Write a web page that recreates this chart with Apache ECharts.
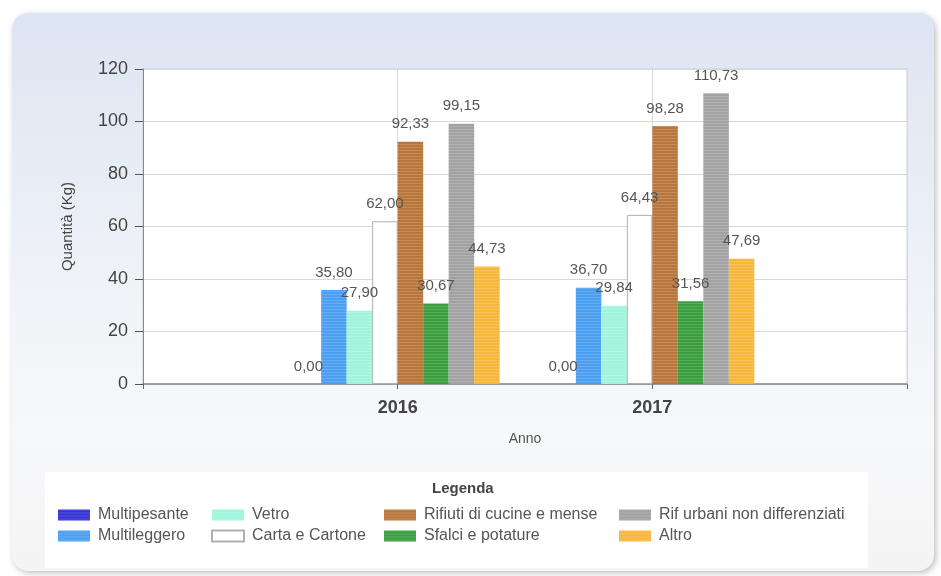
<!DOCTYPE html>
<html>
<head>
<meta charset="utf-8">
<script src="https://cdn.jsdelivr.net/npm/echarts@6/dist/echarts.min.js"></script>
<style>
html,body{margin:0;padding:0;background:#fff;}
#chart{width:941px;height:576px;}
</style>
</head>
<body>
<div id="chart"></div>
<script>
const years = [2016, 2017];
const seriesNames = ['Multipesante','Multileggero','Vetro','Carta e Cartone','Rifiuti di cucine e mense','Sfalci e potature','Rif urbani non differenziati','Altro'];
const multipesante = [0.00, 0.00];
const multileggero = [35.80, 36.70];
const vetro = [27.90, 29.84];
const carta = [62.00, 64.43];
const rifiutiCucine = [92.33, 98.28];
const sfalci = [30.67, 31.56];
const rifUrbani = [99.15, 110.73];
const altro = [44.73, 47.69];
const yTicks = [0, 20, 40, 60, 80, 100, 120];

const values = [multipesante, multileggero, vetro, carta, rifiutiCucine, sfalci, rifUrbani, altro];
const colors = ['#3434d6','#4a9ff0','#9ff5dc','#ffffff','#b8763a','#3a9e3e','#a2a2a2','#f7b73c'];

const chart = echarts.init(document.getElementById('chart'));
const fontFam = '"Liberation Sans", Arial, sans-serif';

const stripe = {
  symbol: 'rect', symbolSize: 1,
  dashArrayX: [1, 0], dashArrayY: [1, 2],
  color: 'rgba(255,255,255,0.16)', rotation: 0
};

const series = seriesNames.map((name, i) => ({
  name: name,
  type: 'bar',
  barWidth: 25.5,
  barGap: '0%',
  data: years.map((y, j) => [y, values[i][j]]),
  itemStyle: {
    color: colors[i],
    borderColor: i === 3 ? '#b0b0b0' : colors[i],
    borderWidth: i === 3 ? 1 : 0,
    decal: i === 3 ? null : stripe
  },
  label: {
    show: true,
    position: 'top',
    distance: 10,
    fontFamily: fontFam,
    fontSize: 15,
    color: '#555',
    formatter: p => p.value[1].toFixed(2).replace('.', ',')
  }
}));

const legendCols = [[0,1],[2,3],[4,5],[6,7]];
const legendLeft = [58, 211, 384, 619];
const legends = legendCols.map((c, k) => ({
  orient: 'vertical',
  left: legendLeft[k],
  top: 507,
  padding: 0,
  icon: 'rect',
  itemWidth: 32,
  itemHeight: 11,
  itemGap: 5,
  selectedMode: false,
  textStyle: { fontFamily: fontFam, fontSize: 16, color: '#555', padding: [0,0,0,3] },
  data: c.map(i => seriesNames[i])
}));

chart.setOption({
  animation: false,
  color: colors,
  graphic: [
    {
      type: 'rect', z: -10, silent: true,
      shape: { x: 12, y: 13, width: 922, height: 558, r: 16 },
      style: {
        fill: new echarts.graphic.LinearGradient(0, 0, 0, 1, [
          { offset: 0, color: '#dce5f2' },
          { offset: 0.45, color: '#eef2f7' },
          { offset: 0.75, color: '#f7f8fa' },
          { offset: 1, color: '#f4f4f4' }
        ]),
        shadowColor: 'rgba(0,0,0,0.25)', shadowBlur: 6, shadowOffsetX: 2, shadowOffsetY: 2
      }
    },
    {
      type: 'rect', z: -9, silent: true,
      shape: { x: 45, y: 472, width: 823, height: 96 },
      style: { fill: '#ffffff' }
    },
    {
      type: 'text', z: 10, silent: true,
      left: 432, top: 481,
      style: { text: 'Legenda', font: 'bold 15px "Liberation Sans", Arial, sans-serif', fill: '#444' }
    }
  ],
  legend: legends,
  grid: {
    left: 143, right: 34, top: 69, bottom: 192,
    show: true, backgroundColor: '#ffffff', borderColor: '#d0d0d0', borderWidth: 1,
    containLabel: false
  },
  xAxis: {
    type: 'value',
    min: 2015, max: 2018, interval: 1,
    name: 'Anno', nameLocation: 'middle', nameGap: 48,
    nameTextStyle: { fontFamily: fontFam, fontSize: 14, color: '#555' },
    axisLine: { show: true, lineStyle: { color: '#888', width: 1.5 } },
    axisTick: { show: true, length: 5, lineStyle: { color: '#666' } },
    axisLabel: {
      margin: 15,
      fontFamily: fontFam, fontSize: 18, fontWeight: 'bold', color: '#444',
      formatter: v => years.indexOf(v) >= 0 ? String(v) : ''
    },
    splitLine: { show: true, lineStyle: { color: '#d8d8d8' } }
  },
  yAxis: {
    type: 'value',
    min: yTicks[0], max: yTicks[yTicks.length - 1], interval: 20,
    name: 'Quantità (Kg)', nameLocation: 'middle', nameGap: 68,
    nameTextStyle: { fontFamily: fontFam, fontSize: 15, color: '#444' },
    axisLine: { show: true, lineStyle: { color: '#888' } },
    axisTick: { show: true, length: 8, lineStyle: { color: '#555' } },
    axisLabel: { margin: 15, fontFamily: fontFam, fontSize: 18, color: '#444' },
    splitLine: { show: true, lineStyle: { color: '#d8d8d8' } }
  },
  series: series
});
</script>
</body>
</html>
